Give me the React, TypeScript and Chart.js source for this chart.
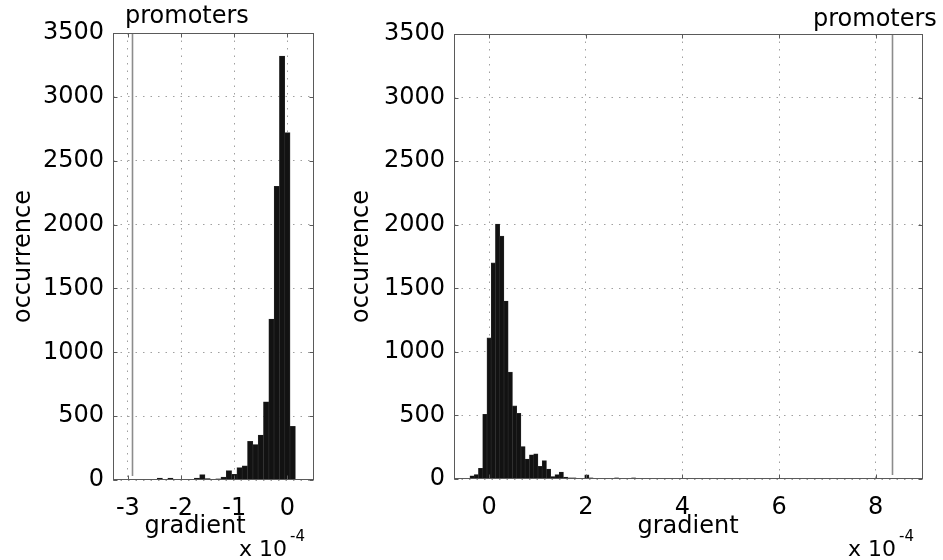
import React, { useEffect, useRef } from "react";
import { Chart, registerables } from "chart.js";

Chart.register(...registerables);

// ---------- data ----------
const leftBinStart = -3.0; // centre of first bin (x 1e-4)
const leftBinWidth = 0.1;
const leftCounts = [
  5, 0, 0, 0, 0, 0, 15, 0, 15, 0, 0, 0, 0, 15, 42, 12, 0, 10, 22, 73, 45, 97,
  110, 302, 278, 352, 612, 1260, 2300, 3320, 2720, 420,
];

const rightBinStart = -0.356;
const rightBinWidth = 0.088;
const rightCounts = [
  25, 35, 84, 509, 1110, 1700, 2005, 1910, 1400, 840, 575, 516, 255, 157, 191,
  197, 99, 144, 79, 20, 34, 55, 15, 10, 10, 5, 5, 32, 10, 5, 0, 0, 0, 0, 10, 0,
  0, 0, 10,
];

const leftXTicks = [-3, -2, -1, 0];
const rightXTicks = [0, 2, 4, 6, 8];
const yTicks = [0, 500, 1000, 1500, 2000, 2500, 3000, 3500];
const leftXRange = [-3.28, 0.5];
const rightXRange = [-0.73, 8.98];
const yMax = 3500;
const leftPromoter = -2.92;
const rightPromoter = 8.33;

const yTitle = "occurrence";
const xTitle = "gradient";
const promoterText = "promoters";
const expBase = "x 10";
const expPower = "-4";

// ---------- helpers ----------
const FONT = "DejaVu Sans";

const framePlugin = {
  id: "matlabFrame",
  afterDraw(chart: any, _args: any, opts: any) {
    const { ctx, chartArea: a, scales } = chart;
    const xs = scales.x;
    const ys = scales.y;
    ctx.save();
    // promoter marker line
    const px = Math.round(xs.getPixelForValue(opts.promoter)) + 0.5;
    ctx.strokeStyle = "#8c8c8c";
    ctx.lineWidth = 1.6;
    ctx.beginPath();
    ctx.moveTo(px, a.top);
    ctx.lineTo(px, a.bottom - 4);
    ctx.stroke();

    // box
    ctx.strokeStyle = "#5a5a5a";
    ctx.lineWidth = 1;
    const l = Math.round(a.left) + 0.5;
    const r = Math.round(a.right) - 0.5;
    const t = Math.round(a.top) + 0.5;
    const b = Math.round(a.bottom) - 0.5;
    ctx.strokeRect(l, t, r - l, b - t);

    // inward ticks
    ctx.beginPath();
    opts.xTicks.forEach((v: number) => {
      const x = Math.round(xs.getPixelForValue(v)) + 0.5;
      ctx.moveTo(x, b);
      ctx.lineTo(x, b - 4);
      ctx.moveTo(x, t);
      ctx.lineTo(x, t + 4);
    });
    opts.yTicks.forEach((v: number) => {
      const y = Math.round(ys.getPixelForValue(v)) + 0.5;
      ctx.moveTo(l, y);
      ctx.lineTo(l + 4, y);
      ctx.moveTo(r, y);
      ctx.lineTo(r - 4, y);
    });
    ctx.stroke();

    // texts
    ctx.fillStyle = "#000";
    ctx.textBaseline = "alphabetic";
    // y title
    ctx.save();
    ctx.translate(opts.yTitleX, (a.top + a.bottom) / 2);
    ctx.rotate(-Math.PI / 2);
    ctx.font = `24px "${FONT}"`;
    ctx.textAlign = "center";
    ctx.textBaseline = "middle";
    ctx.fillText(yTitle, 0, 0);
    ctx.restore();
    // x title
    ctx.font = `24px "${FONT}"`;
    ctx.textAlign = "center";
    ctx.fillText(xTitle, opts.xTitleX, opts.xTitleY);
    // exponent
    ctx.textAlign = "left";
    ctx.font = `22px "${FONT}"`;
    ctx.fillText(expBase, opts.expX, opts.expY);
    const w = ctx.measureText(expBase).width;
    ctx.font = `15px "${FONT}"`;
    ctx.fillText(expPower, opts.expX + w + 3, opts.expY - 15);
    // promoters label
    ctx.font = `24px "${FONT}"`;
    ctx.fillText(promoterText, opts.promoterTextX, opts.promoterTextY);
    ctx.restore();
  },
};

function makeChart(
  canvas: HTMLCanvasElement,
  binStart: number,
  binWidth: number,
  counts: number[],
  xTicks: number[],
  xRange: number[],
  layout: { yWidth: number; xHeight: number; top: number; right: number },
  frame: any
) {
  const points = counts.map((c, i) => ({ x: binStart + i * binWidth, y: c }));
  return new Chart(canvas, {
    type: "bar",
    data: {
      datasets: [
        {
          data: points as any,
          backgroundColor: "#121212",
          borderColor: "#2e2e2e",
          borderWidth: 0.6,
          barPercentage: 1,
          categoryPercentage: 1,
        },
      ],
    },
    options: {
      responsive: false,
      animation: false,
      events: [],
      layout: {
        padding: { left: 0, right: layout.right, top: layout.top, bottom: 0 },
      },
      plugins: {
        legend: { display: false },
        tooltip: { enabled: false },
        matlabFrame: { ...frame, xTicks, yTicks },
      } as any,
      scales: {
        x: {
          type: "linear",
          min: xRange[0],
          max: xRange[1],
          offset: false,
          grid: { offset: false, color: "#a0a0a0", drawTicks: false, lineWidth: 1 },
          border: { display: false, dash: [1.5, 6] },
          ticks: {
            font: { family: FONT, size: 24 },
            color: "#000",
            padding: 14,
            autoSkip: false,
            maxRotation: 0,
            callback: (v: any) => String(v),
          },
          afterBuildTicks: (s: any) => {
            s.ticks = xTicks.map((v) => ({ value: v }));
          },
          afterFit: (s: any) => {
            s.height = layout.xHeight;
          },
        },
        y: {
          type: "linear",
          min: 0,
          max: yMax,
          grid: { color: "#a0a0a0", drawTicks: false, lineWidth: 1 },
          border: { display: false, dash: [1.5, 6] },
          ticks: {
            font: { family: FONT, size: 24 },
            color: "#000",
            padding: 9,
            callback: (v: any) => String(v),
          },
          afterBuildTicks: (s: any) => {
            s.ticks = yTicks.map((v) => ({ value: v }));
          },
          afterFit: (s: any) => {
            s.width = layout.yWidth;
          },
        },
      } as any,
    },
    plugins: [framePlugin],
  });
}

export default function App() {
  const leftRef = useRef<HTMLCanvasElement>(null);
  const rightRef = useRef<HTMLCanvasElement>(null);

  useEffect(() => {
    const c1 = makeChart(
      leftRef.current!,
      leftBinStart,
      leftBinWidth,
      leftCounts,
      leftXTicks,
      leftXRange,
      { yWidth: 113, xHeight: 80, top: 33, right: 21 },
      {
        promoter: leftPromoter,
        yTitleX: 24,
        xTitleX: 195,
        xTitleY: 533,
        expX: 239,
        expY: 556,
        promoterTextX: 125,
        promoterTextY: 23,
      }
    );
    const c2 = makeChart(
      rightRef.current!,
      rightBinStart,
      rightBinWidth,
      rightCounts,
      rightXTicks,
      rightXRange,
      { yWidth: 119, xHeight: 81, top: 34, right: 20 },
      {
        promoter: rightPromoter,
        yTitleX: 27,
        xTitleX: 353,
        xTitleY: 533,
        expX: 513,
        expY: 556,
        promoterTextX: 478,
        promoterTextY: 26,
      }
    );
    return () => {
      c1.destroy();
      c2.destroy();
    };
  }, []);

  return (
    <div
      style={{
        position: "absolute",
        left: 0,
        top: 0,
        width: 943,
        height: 560,
        background: "#fff",
        overflow: "hidden",
      }}
    >
      <canvas
        ref={leftRef}
        width={335}
        height={560}
        style={{ position: "absolute", left: 0, top: 0 }}
      />
      <canvas
        ref={rightRef}
        width={608}
        height={560}
        style={{ position: "absolute", left: 335, top: 0 }}
      />
    </div>
  );
}
